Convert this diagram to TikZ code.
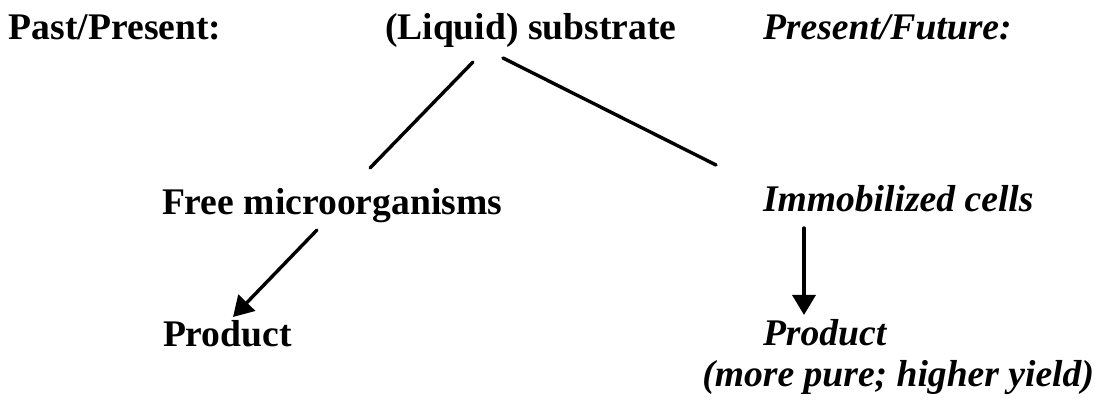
\documentclass[tikz,border=0pt]{standalone}
\usepackage{fontspec}
\setmainfont{Liberation Serif}
\usetikzlibrary{arrows.meta}
\tikzset{
  lbl/.style={inner sep=0pt, outer sep=0pt, anchor=base west, font=\fontsize{37.6}{44}\selectfont\bfseries},
  ilbl/.style={lbl, font=\fontsize{37.6}{44}\selectfont\bfseries\itshape},
  conn/.style={line width=3.4pt, line cap=round},
  arr/.style={conn, -{Triangle[length=20pt,width=23pt]}}
}
\begin{document}
\begin{tikzpicture}[x=1pt,y=-1pt]
\useasboundingbox (0,0) rectangle (1096,406);
\node[lbl] (past) at (9,40) {Past/Present:};
\node[lbl] (sub) at (385,40) {(Liquid) substrate};
\node[ilbl] (fut) at (763,40) {Present/Future:};
\node[lbl] (free) at (162,215) {Free microorganisms};
\node[ilbl] (imm) at (763,212) {Immobilized cells};
\node[lbl] (prodL) at (163,347) {Product};
\node[ilbl] (prodR) at (763,345) {Product};
\node[ilbl, anchor=base east] (more) at (1094,386) {(more pure; higher yield)};
\coordinate (s1) at (473,62);
\coordinate (s2) at (503,58);
\coordinate (f1) at (370,168);
\coordinate (i1) at (716,165);
\coordinate (f2) at (317,230);
\coordinate (p1) at (233,317);
\coordinate (i2) at (804,228);
\coordinate (p2) at (804,315);
\draw[conn] (s1) -- (f1);
\draw[conn] (s2) -- (i1);
\draw[arr] (f2) -- (p1);
\draw[arr] (i2) -- (p2);
\end{tikzpicture}
\end{document}
